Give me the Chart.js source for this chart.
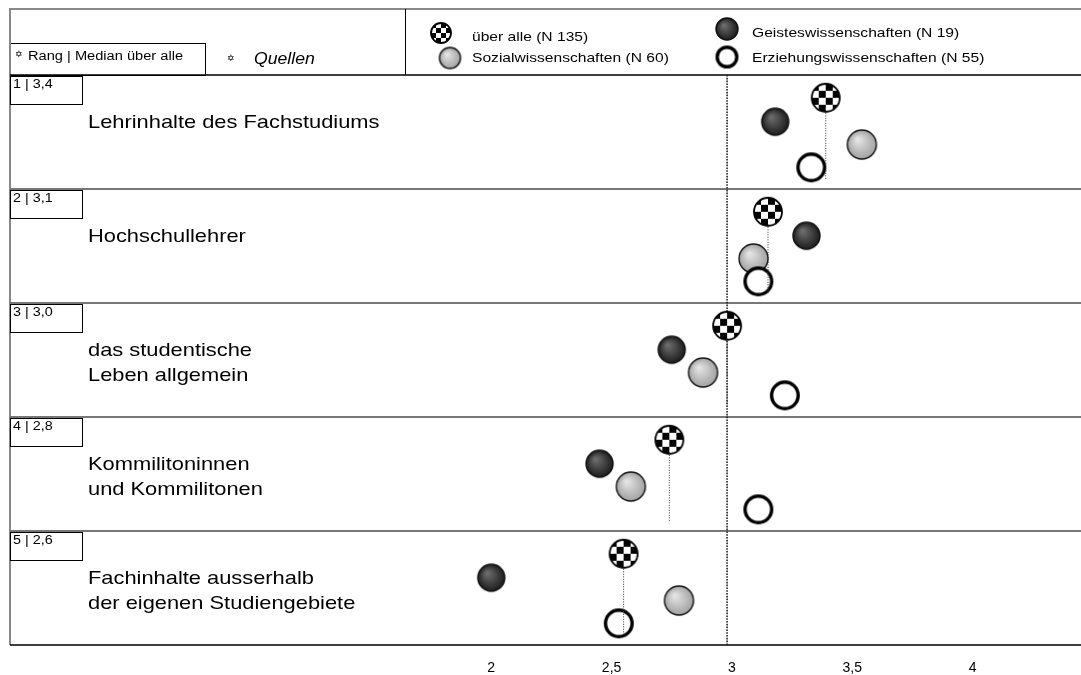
<!DOCTYPE html>
<html>
<head>
<meta charset="utf-8">
<script src="https://cdn.jsdelivr.net/npm/chart.js@4.4.1/dist/chart.umd.min.js"></script>
<style>
  body { margin: 0; background: #fff; }
  #wrap { width: 1081px; height: 675px; }
</style>
</head>
<body>
<div id="wrap"><canvas id="chart"></canvas></div>
<script>
// Data
const categories = [
    ['Lehrinhalte des Fachstudiums'],
    ['Hochschullehrer'],
    ['das studentische', 'Leben allgemein'],
    ['Kommilitoninnen', 'und Kommilitonen'],
    ['Fachinhalte ausserhalb', 'der eigenen Studiengebiete']
];
const rankLabels = ['1 | 3,4', '2 | 3,1', '3 | 3,0', '4 | 2,8', '5 | 2,6'];
const ueberAlle = [3.39, 3.15, 2.98, 2.74, 2.55];
const geistes = [3.18, 3.31, 2.75, 2.45, 2.00];
const sozial = [3.54, 3.09, 2.88, 2.58, 2.78];
const erziehung = [3.33, 3.11, 3.22, 3.11, 2.53];
const seriesNames = ['über alle (N 135)', 'Geisteswissenschaften (N 19)', 'Sozialwissenschaften (N 60)', 'Erziehungswissenschaften (N 55)'];
const xTicks = [2, 2.5, 3, 3.5, 4];
const referenceValue = 2.98;

const FONT = '"Liberation Sans", Arial, sans-serif';

// Vertical slot of each series inside a row (fraction of row height)
const SLOT = { ueber: 0.2, geistes: 0.41, sozial: 0.61, erziehung: 0.81, dropEnd: 0.92 };

// Marker images
function makeMarker(kind, d) {
    const c = document.createElement('canvas');
    c.width = c.height = d + 4;
    const g = c.getContext('2d');
    const cx = c.width / 2, r = d / 2;
    if (kind === 'checker') {
        g.save();
        g.beginPath(); g.arc(cx, cx, r, 0, Math.PI * 2); g.clip();
        g.fillStyle = '#fff'; g.fillRect(0, 0, c.width, c.height);
        const n = 4, s = d / n, x0 = cx - r;
        g.fillStyle = '#000';
        for (let i = 0; i < n; i++) {
            for (let j = 0; j < n; j++) {
                if ((i + j) % 2 === 0) g.fillRect(x0 + i * s, x0 + j * s, s, s);
            }
        }
        g.restore();
        g.beginPath(); g.arc(cx, cx, r, 0, Math.PI * 2);
        g.lineWidth = 1.8; g.strokeStyle = '#000'; g.stroke();
    } else if (kind === 'dark' || kind === 'light') {
        const grad = g.createRadialGradient(cx - r * 0.3, cx - r * 0.35, r * 0.08, cx, cx, r);
        if (kind === 'dark') {
            grad.addColorStop(0, '#6c6c6c');
            grad.addColorStop(1, '#1c1c1c');
        } else {
            grad.addColorStop(0, '#e4e4e4');
            grad.addColorStop(1, '#a2a2a2');
        }
        g.beginPath(); g.arc(cx, cx, r, 0, Math.PI * 2);
        g.fillStyle = grad; g.fill();
        g.lineWidth = 1.4; g.strokeStyle = '#111'; g.stroke();
    } else {
        g.beginPath(); g.arc(cx, cx, r - 1.7, 0, Math.PI * 2);
        g.fillStyle = '#fff'; g.fill();
        g.lineWidth = 3.4; g.strokeStyle = '#000'; g.stroke();
    }
    return c;
}

const markers = {
    ueber: makeMarker('checker', 28),
    geistes: makeMarker('dark', 27),
    sozial: makeMarker('light', 29),
    erziehung: makeMarker('ring', 30)
};
const legendMarkers = [
    makeMarker('checker', 20),
    makeMarker('dark', 22),
    makeMarker('light', 21),
    makeMarker('ring', 23)
];

function points(values, slot) {
    return values.map((v, i) => ({ x: v, y: i + slot }));
}

function markerSet(label, values, slot, img, order) {
    return {
        label: label,
        data: points(values, slot),
        pointStyle: img,
        order: order
    };
}

// Dotted drop lines from "über alle" down through the row
const dropLines = ueberAlle.map((v, i) => ({
    type: 'line',
    data: [{ x: v, y: i + SLOT.ueber + 0.11 }, { x: v, y: i + SLOT.dropEnd }],
    borderColor: '#333',
    borderWidth: 1,
    borderDash: [1, 1.5],
    pointRadius: 0,
    order: 0
}));

const refLine = {
    type: 'line',
    data: [{ x: referenceValue, y: 0 }, { x: referenceValue, y: categories.length }],
    borderColor: '#222',
    borderWidth: 1.6,
    borderDash: [1.6, 1.2],
    pointRadius: 0,
    order: 9
};

// Text in the reference is a little wider than the installed Arial metrics
function wideText(ctx, text, x, y, font, sx) {
    ctx.save();
    ctx.font = font;
    ctx.translate(x, y);
    ctx.scale(sx, 1);
    ctx.fillText(text, 0, 0);
    ctx.restore();
}

// Frame, row separators, header, labels
const decorations = {
    id: 'decorations',
    beforeDatasetsDraw(chart) {
        const { ctx, chartArea } = chart;
        const y = chart.scales.y;
        const left = chartArea.left, right = chart.width;
        const top = chartArea.top, bottom = chartArea.bottom;
        ctx.save();

        // header
        ctx.strokeStyle = '#888'; ctx.lineWidth = 2;
        ctx.beginPath(); ctx.moveTo(left, 9); ctx.lineTo(right, 9); ctx.stroke();
        ctx.strokeStyle = '#000'; ctx.lineWidth = 1;
        ctx.beginPath();
        ctx.moveTo(405.5, 9); ctx.lineTo(405.5, top);
        ctx.stroke();
        ctx.strokeRect(left + 0.5, 43.5, 195, top - 43);

        ctx.fillStyle = '#000';
        ctx.textBaseline = 'middle';
        ctx.textAlign = 'left';
        ctx.font = '9px "DejaVu Sans"';
        ctx.fillText('\u2721', 15, 55);
        ctx.fillText('\u2721', 227, 59);
        wideText(ctx, 'Rang | Median über alle', 28, 57, '12.5px ' + FONT, 1.17);
        wideText(ctx, 'Quellen', 254, 59, 'italic 16.5px ' + FONT, 1.07);

        // legend
        const lg = [
            { x: 441, y: 33, tx: 472, ty: 37 },
            { x: 727, y: 29, tx: 752, ty: 33 },
            { x: 450, y: 58, tx: 472, ty: 58 },
            { x: 727, y: 57, tx: 752, ty: 58 }
        ];
        lg.forEach((p, i) => {
            const m = legendMarkers[i];
            ctx.drawImage(m, p.x - m.width / 2, p.y - m.height / 2);
            wideText(ctx, seriesNames[i], p.tx, p.ty, '13px ' + FONT, 1.2);
        });

        // left frame line
        ctx.strokeStyle = '#888'; ctx.lineWidth = 2;
        ctx.beginPath(); ctx.moveTo(left, 8); ctx.lineTo(left, bottom); ctx.stroke();

        // header bottom and x axis line
        ctx.strokeStyle = '#000'; ctx.lineWidth = 1.6;
        ctx.beginPath();
        ctx.moveTo(left, top); ctx.lineTo(right, top);
        ctx.moveTo(left, bottom); ctx.lineTo(right, bottom);
        ctx.stroke();

        // row separators
        ctx.strokeStyle = '#777'; ctx.lineWidth = 2.2;
        for (let i = 1; i < categories.length; i++) {
            const yy = Math.round(y.getPixelForValue(i));
            ctx.beginPath(); ctx.moveTo(left, yy); ctx.lineTo(right, yy); ctx.stroke();
        }

        // rank boxes and category names
        categories.forEach((lines, i) => {
            const rowTop = y.getPixelForValue(i);
            ctx.strokeStyle = '#000'; ctx.lineWidth = 1;
            ctx.strokeRect(left + 0.5, Math.round(rowTop) + 1.5, 72, 28);
            ctx.fillStyle = '#000';
            ctx.textBaseline = 'middle';
            wideText(ctx, rankLabels[i], 13, rowTop + 10, '12.5px ' + FONT, 1.15);
            lines.forEach((t, k) => {
                wideText(ctx, t, 88, rowTop + 48 + k * 25, '19px ' + FONT, 1.15);
            });
        });
        ctx.restore();
    }
};

new Chart(document.getElementById('chart'), {
    type: 'scatter',
    data: {
        datasets: [
            ...dropLines,
            markerSet(seriesNames[3], erziehung, SLOT.erziehung, markers.erziehung, 1),
            markerSet(seriesNames[0], ueberAlle, SLOT.ueber, markers.ueber, 2),
            markerSet(seriesNames[2], sozial, SLOT.sozial, markers.sozial, 3),
            markerSet(seriesNames[1], geistes, SLOT.geistes, markers.geistes, 4),
            refLine
        ]
    },
    options: {
        responsive: true,
        maintainAspectRatio: false,
        animation: false,
        layout: { padding: { top: 75, left: 10, right: 0, bottom: 0 } },
        plugins: {
            legend: { display: false },
            tooltip: { enabled: false }
        },
        scales: {
            x: {
                type: 'linear',
                min: 0,
                max: 4.43,
                grid: { display: false },
                border: { display: false },
                afterBuildTicks: scale => {
                    scale.ticks = xTicks.map(v => ({ value: v }));
                },
                afterFit: scale => { scale.height = 30; },
                ticks: {
                    padding: 7,
                    color: '#000',
                    font: { family: FONT, size: 14 },
                    callback: v => String(v).replace('.', ',')
                }
            },
            y: {
                type: 'linear',
                display: false,
                reverse: true,
                min: 0,
                max: categories.length
            }
        }
    },
    plugins: [decorations]
});
</script>
</body>
</html>
